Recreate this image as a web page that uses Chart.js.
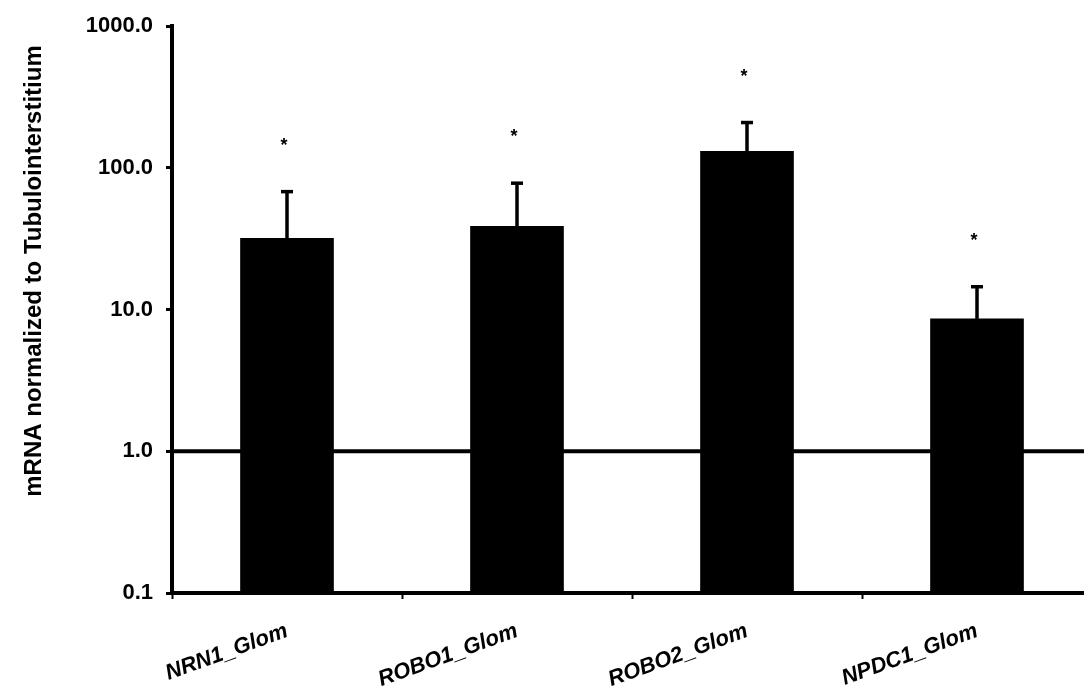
<!DOCTYPE html>
<html>
<head>
<meta charset="utf-8">
<script src="https://cdn.jsdelivr.net/npm/chart.js@4/dist/chart.umd.min.js"></script>
<style>
  html, body { margin: 0; padding: 0; background: #ffffff; overflow: hidden; }
  /* the original figure is cropped on its right side */
  #wrap { width: 1092px; height: 689px; }
</style>
</head>
<body>
<div id="wrap"><canvas id="glomChart"></canvas></div>
<script>
// values (log scale)
const categories = ["NRN1_Glom", "ROBO1_Glom", "ROBO2_Glom", "NPDC1_Glom"]
const meanValues = [31.8, 38.7, 131, 8.6]
const errorTops = [68, 78, 209, 14.5]
const significant = [true, true, true, true]
const yTicks = [0.1, 1, 10, 100, 1000]
const referenceLevel = 1
const yTitle = "mRNA normalized to Tubulointerstitium"

const FONT = "'Liberation Sans', Arial, sans-serif"

// thick line at 1.0, drawn under the bars
const referenceLine = {
  id: "referenceLine",
  beforeDatasetsDraw(chart) {
    const { ctx, chartArea, scales } = chart
    const y = scales.y.getPixelForValue(referenceLevel)
    ctx.save()
    ctx.strokeStyle = "#000"
    ctx.lineWidth = 4
    ctx.beginPath()
    ctx.moveTo(chartArea.left, y)
    ctx.lineTo(chart.width, y)
    ctx.stroke()
    ctx.restore()
  },
}

// upper error bars + significance stars
const errorBars = {
  id: "errorBars",
  afterDatasetsDraw(chart) {
    const { ctx, scales } = chart
    const meta = chart.getDatasetMeta(0)
    ctx.save()
    ctx.strokeStyle = "#000"
    ctx.fillStyle = "#000"
    meta.data.forEach((bar, i) => {
      const x = bar.x
      const yTop = scales.y.getPixelForValue(errorTops[i])
      ctx.lineWidth = 3.5
      ctx.beginPath()
      ctx.moveTo(x, bar.y)
      ctx.lineTo(x, yTop)
      ctx.stroke()
      ctx.beginPath()
      ctx.moveTo(x - 6, yTop)
      ctx.lineTo(x + 6, yTop)
      ctx.stroke()
      if (significant[i]) {
        ctx.font = "bold 18px " + FONT
        ctx.textAlign = "center"
        ctx.textBaseline = "alphabetic"
        ctx.fillText("*", x - 3, yTop - 41)
      }
    })
    ctx.restore()
  },
}

// y axis title placed like the original
const axisTitle = {
  id: "axisTitle",
  afterDraw(chart) {
    const { ctx } = chart
    ctx.save()
    ctx.translate(34, 271)
    ctx.rotate(-Math.PI / 2)
    ctx.font = "bold 24px " + FONT
    ctx.fillStyle = "#000"
    ctx.textAlign = "center"
    ctx.textBaseline = "middle"
    ctx.fillText(yTitle, 0, 0)
    ctx.restore()
  },
}

new Chart(document.getElementById("glomChart"), {
  type: "bar",
  data: {
    labels: categories,
    datasets: [
      {
        data: meanValues,
        backgroundColor: "#000",
        borderWidth: 0,
        barThickness: 93,
      },
    ],
  },
  options: {
    responsive: true,
    maintainAspectRatio: false,
    animation: false,
    layout: {
      padding: { top: 21, right: 0, left: 0, bottom: 0 },
    },
    plugins: {
      legend: { display: false },
      tooltip: { enabled: false },
    },
    scales: {
      x: {
        afterFit: (scale) => {
          scale.height = 96
        },
        border: { display: true, color: "#000", width: 4 },
        grid: {
          display: true,
          offset: true,
          drawOnChartArea: false,
          drawTicks: true,
          tickLength: 6,
          tickWidth: 2,
          tickColor: "#000",
        },
        ticks: {
          color: "#000",
          minRotation: 20,
          maxRotation: 20,
          padding: 19,
          font: { family: FONT, size: 22, weight: "bold", style: "italic" },
        },
      },
      y: {
        type: "logarithmic",
        min: 0.1,
        max: 1000,
        afterFit: (scale) => {
          scale.width = 172
        },
        afterBuildTicks: (scale) => {
          scale.ticks = yTicks.map((v) => ({ value: v }))
        },
        border: { display: true, color: "#000", width: 4 },
        grid: {
          display: true,
          drawOnChartArea: false,
          drawTicks: true,
          tickLength: 6,
          tickWidth: 3,
          tickColor: "#000",
        },
        ticks: {
          color: "#000",
          autoSkip: false,
          padding: 13,
          font: { family: FONT, size: 22, weight: "bold" },
          callback: (value) => Number(value).toFixed(1),
        },
      },
    },
  },
  plugins: [referenceLine, errorBars, axisTitle],
})
</script>
</body>
</html>
